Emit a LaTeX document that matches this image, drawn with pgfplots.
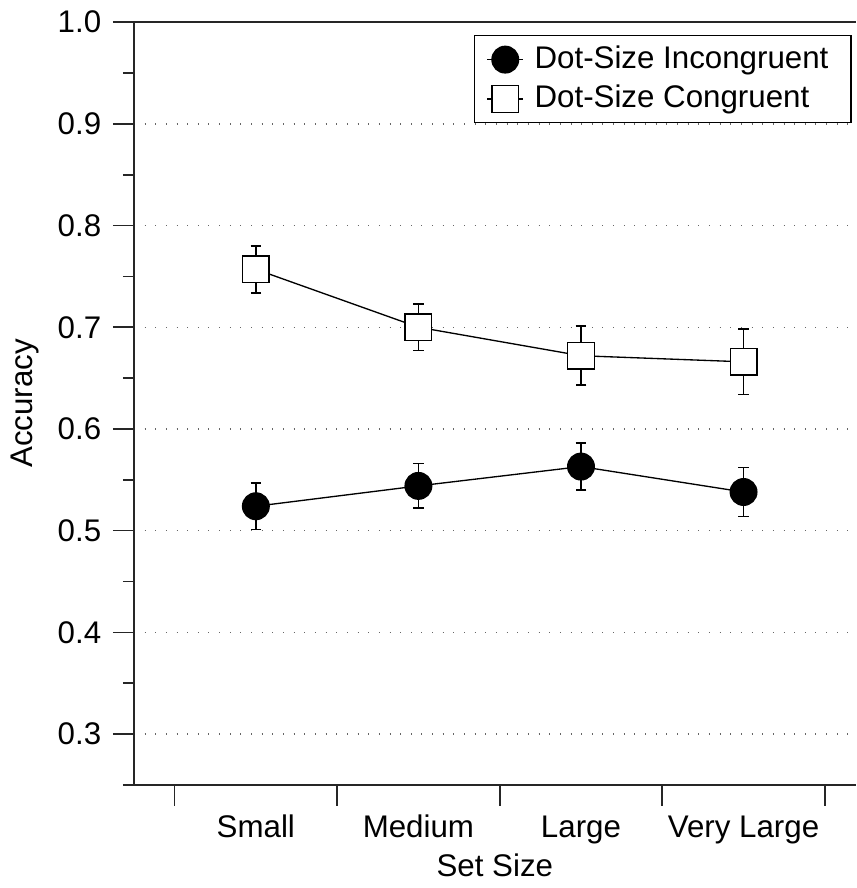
\documentclass[border=0pt]{standalone}
\usepackage{fontspec}
\setmainfont{Liberation Sans}
\usepackage{pgfplots}
\pgfplotsset{compat=1.18}

\pgfplotstableread{
x   y      e
1   0.757  0.023
2   0.700  0.023
3   0.672  0.029
4   0.666  0.032
}\congruent
\pgfplotstableread{
x   y      e
1   0.524  0.023
2   0.544  0.022
3   0.563  0.023
4   0.538  0.024
}\incongruent

\begin{document}
\begin{tikzpicture}
\begin{axis}[
    scale only axis,
    width=216.9pt, height=229.2pt,
    xmin=0.25, xmax=4.69,
    ymin=0.25, ymax=1.0,
    axis x line*=box,
    axis y line*=left,
    axis line style={black!85, line width=0.5pt},
    xtick={0.5,1.5,2.5,3.5,4.5},
    x tick label as interval,
    xticklabels={Small,Medium,Large,Very Large},
    xtick pos=left,
    ytick={0.3,0.4,...,1.01},
    minor ytick={0.25,0.35,...,0.96},
    ytick pos=left,
    tick align=outside,
    major tick length=6.3pt,
    minor tick length=3.3pt,
    tick style={black!85, line width=0.5pt},
    yticklabel style={/pgf/number format/.cd, fixed, fixed zerofill, precision=1},
    /pgf/number format/assume math mode=true,
    ymajorgrids,
    grid style={black!60, line width=0.4pt, dash pattern=on 0.3pt off 2.9pt},
    tick label style={font=\fontsize{9.4}{11}\selectfont},
    label style={font=\fontsize{9.4}{11}\selectfont},
    xticklabel style={text height=7pt, text depth=2pt, yshift=1pt},
    xlabel={Set Size},
    ylabel={Accuracy},
    xlabel style={at={(axis description cs:0.5,0)}, anchor=center, yshift=-24.2pt},
    ylabel style={at={(axis description cs:0,0.5)}, anchor=center, yshift=32.7pt},
    legend style={at={(rel axis cs:1,1)}, anchor=north east, xshift=-1.2pt, yshift=-3.9pt,
        font=\fontsize{9.4}{11}\selectfont, draw=black, line width=0.4pt,
        inner xsep=3.6pt, inner ysep=1pt, row sep=-0.5pt,
        nodes={inner xsep=3.2pt},
        /tikz/every even column/.append style={column sep=1.5pt}},
    legend cell align=left,
    legend image code/.code={\draw[mark repeat=2, mark phase=2] plot coordinates {(0cm,0cm) (0.19cm,0cm) (0.38cm,0cm)};},
    error bars/error bar style={black, line width=0.5pt, solid},
    error bars/error mark options={rotate=90, mark size=1.6pt, line width=0.5pt},
]
\addplot[black, line width=0.4pt, mark=*, mark size=4pt,
    mark options={fill=black},
    error bars/.cd, y dir=both, y explicit]
    table[x=x, y=y, y error=e] {\incongruent};
\addplot[black, line width=0.4pt, mark=square*, mark size=4pt,
    mark options={fill=white, line width=0.4pt},
    error bars/.cd, y dir=both, y explicit]
    table[x=x, y=y, y error=e] {\congruent};
\legend{Dot-Size Incongruent, Dot-Size Congruent}
\end{axis}
\end{tikzpicture}
\end{document}
